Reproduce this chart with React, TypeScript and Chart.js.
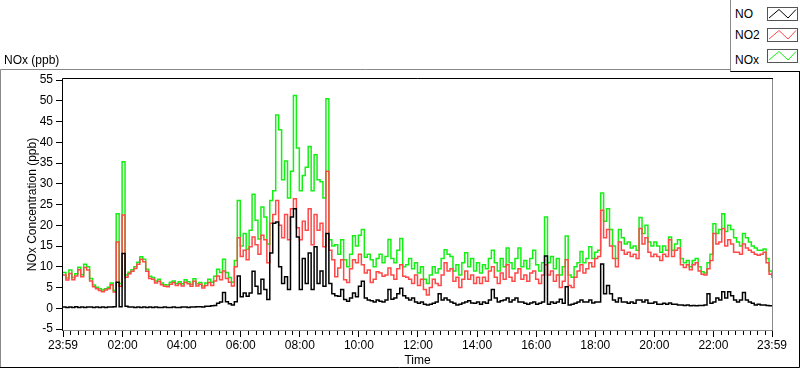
import React, { useEffect, useRef } from "react";
import { Chart, registerables } from "chart.js";

Chart.register(...registerables);

// ---- data (6-minute samples starting at 23:59) ----
const STEP_MINUTES = 6;

const noValues = [
  0.3, 0.2, 0.3, 0.2, 0.4, 0.2, 0.3, 0.2, 0.3, 0.3,
  0.2, 0.3, 0.2, 0.3, 0.2, 0.3, 0.3, 0.4, 6.3, 0.4,
  13.2, 0.5, 0.3, 0.3, 0.2, 0.3, 0.2, 0.3, 0.2, 0.3,
  0.2, 0.3, 0.2, 0.2, 0.3, 0.2, 0.2, 0.3, 0.2, 0.2,
  0.3, 0.3, 0.2, 0.3, 0.3, 0.4, 0.4, 0.3, 0.5, 0.5,
  0.6, 0.7, 1.2, 1.5, 3.8, 1.6, 1.1, 0.8, 1.6, 7.8,
  2.8, 3.7, 2.9, 3.7, 8.9, 5.3, 3.5, 7.0, 4.5, 2.1,
  13.3, 20.5, 20.8, 10.0, 6.0, 7.6, 4.5, 22.0, 24.0, 17.2,
  4.5, 12.0, 6.0, 13.3, 4.5, 14.8, 6.0, 9.0, 5.3, 18.0,
  6.0, 3.5, 3.0, 2.9, 4.5, 2.1, 1.7, 2.5, 3.7, 2.8,
  5.3, 6.5, 2.5, 2.0, 1.8, 1.5, 2.0, 1.7, 1.5, 2.0,
  4.5, 2.2, 2.5, 3.5, 4.8, 3.0, 2.5, 2.0, 2.5, 1.5,
  1.2, 1.5, 1.0, 0.8, 1.0, 1.2, 1.5, 3.5, 2.0, 2.5,
  2.0, 1.5, 1.2, 0.8, 1.0, 1.3, 1.5, 1.8, 1.3, 1.2,
  1.5, 1.0, 1.5, 1.2, 2.0, 4.5, 2.5, 1.5, 1.8, 2.0,
  2.5, 1.5, 2.0, 2.5, 1.5, 1.5, 1.2, 1.0, 1.3, 1.5,
  1.0, 1.2, 1.5, 12.6, 1.0, 1.5, 1.2, 1.5, 2.2, 1.2,
  5.2, 0.8, 1.0, 1.2, 1.5, 2.0, 1.5, 1.5, 2.0, 1.3,
  1.5, 1.5, 10.7, 3.5, 5.5, 3.5, 2.0, 1.5, 2.5, 1.5,
  1.5, 1.2, 1.5, 1.2, 2.0, 2.0, 1.5, 2.0, 1.2, 1.2,
  1.5, 1.0, 1.0, 1.2, 1.0, 1.3, 1.0, 1.0, 0.8, 0.8,
  0.7, 0.8, 0.6, 0.7, 0.6, 0.7, 0.7, 0.8, 3.5, 1.2,
  1.5, 2.5, 2.0, 4.0, 2.5, 4.0, 3.0, 2.0, 1.5, 2.0,
  3.8, 2.0, 1.5, 1.2, 0.8, 1.0, 0.8, 0.8, 0.7, 0.6, 0.5,
];

const no2Values = [
  8.0, 6.8, 8.4, 6.9, 7.8, 9.3, 7.6, 9.8, 9.2, 6.6,
  5.2, 4.7, 4.3, 4.0, 4.4, 4.7, 5.7, 3.9, 16.0, 5.3,
  22.5, 7.5, 8.3, 8.9, 9.6, 10.6, 11.8, 11.2, 8.9, 7.2,
  7.0, 6.1, 6.5, 5.7, 5.3, 5.2, 5.8, 6.2, 5.5, 5.9,
  5.4, 6.3, 5.9, 5.3, 6.5, 5.4, 5.8, 4.9, 5.5, 6.2,
  5.5, 6.6, 7.8, 6.9, 9.0, 7.2, 6.3, 5.4, 10.0, 17.0,
  12.5, 14.0, 11.7, 14.8, 17.2, 15.3, 13.0, 17.6, 16.5, 11.0,
  20.5, 22.6, 26.0, 20.0, 17.0, 22.6, 16.5, 24.0, 26.4, 19.4,
  16.5, 21.0, 18.8, 24.0, 15.3, 22.6, 18.8, 20.5, 14.8, 33.0,
  14.0, 11.7, 7.6, 9.7, 11.7, 6.9, 6.2, 9.5, 11.7, 11.0,
  13.0, 10.5, 8.5, 9.2, 6.2, 7.0, 8.8, 8.5, 7.7, 8.0,
  9.7, 8.0, 7.0, 9.5, 10.5, 7.7, 7.5, 7.0, 6.0, 8.0,
  5.5, 7.0, 4.5, 3.2, 5.0, 7.0, 6.0, 5.5, 8.0, 11.0,
  9.0, 9.5, 6.5, 7.5, 5.0, 7.0, 9.0, 7.0, 8.0, 6.0,
  7.5, 6.0, 7.5, 6.5, 9.0, 10.0, 7.5, 6.0, 8.5, 7.0,
  10.5, 7.5, 6.5, 8.5, 9.5, 7.0, 8.0, 6.5, 8.5, 9.0,
  7.0, 6.0, 8.0, 10.5, 8.0, 9.0, 6.5, 8.0, 5.0, 6.5,
  11.7, 5.5, 5.0, 7.5, 9.0, 10.5, 8.5, 9.5, 11.0, 10.0,
  12.0, 12.5, 23.6, 17.0, 19.0, 15.0, 12.0, 10.0, 16.0, 14.0,
  13.0, 13.5, 12.5, 13.0, 12.0, 19.2, 15.5, 17.0, 13.5, 12.5,
  13.0, 12.5, 11.5, 13.0, 12.5, 16.5, 12.5, 14.0, 14.5, 10.5,
  9.8, 10.5, 9.3, 10.5, 11.0, 9.0, 8.2, 8.0, 9.5, 11.5,
  18.0, 15.5, 16.0, 19.2, 15.0, 16.5, 15.5, 13.5, 13.5, 13.0,
  15.5, 14.5, 14.0, 13.5, 13.0, 12.8, 13.0, 13.5, 11.0, 8.2, 7.3,
];

const noxValues = [
  8.6, 7.3, 9.2, 7.4, 8.3, 9.9, 8.1, 10.6, 10.0, 7.2,
  5.6, 5.1, 4.7, 4.4, 4.7, 5.1, 6.1, 4.3, 22.8, 6.0,
  35.3, 8.0, 8.7, 9.3, 10.0, 11.1, 12.4, 11.8, 9.4, 7.7,
  7.4, 6.6, 7.0, 6.1, 5.7, 5.6, 6.3, 6.6, 6.0, 6.4,
  5.9, 6.9, 6.4, 5.8, 7.1, 5.9, 6.2, 5.4, 6.1, 7.0,
  6.3, 7.7, 9.4, 8.6, 11.8, 8.6, 7.4, 6.3, 11.5, 26.0,
  15.0, 18.0, 14.2, 18.8, 27.5, 21.2, 16.7, 24.4, 22.0, 15.5,
  26.0, 28.3, 46.6, 43.0, 31.0, 35.5, 26.6, 33.0, 51.3, 38.6,
  28.3, 32.0, 34.0, 39.0, 28.3, 37.0, 31.0, 30.5, 26.6, 50.5,
  16.5, 15.0, 15.3, 13.0, 16.5, 11.7, 10.0, 13.0, 17.5, 15.0,
  17.6, 19.0, 12.3, 13.0, 11.7, 10.0, 12.0, 13.0, 11.0, 12.5,
  16.6, 12.0, 11.0, 14.0, 16.8, 10.0, 10.5, 12.0, 9.5, 11.0,
  8.5, 10.0, 7.0, 6.0, 8.0, 10.0, 8.5, 9.5, 12.0, 14.1,
  13.0, 12.5, 9.0, 10.5, 8.0, 11.0, 13.4, 10.0, 12.0, 9.0,
  11.0, 8.5, 10.5, 9.5, 12.0, 14.0, 11.0, 9.0, 12.0, 10.0,
  14.5, 11.0, 9.5, 12.0, 14.5, 10.0, 11.5, 9.5, 12.0, 14.0,
  10.5, 9.0, 11.0, 22.0, 11.0, 12.5, 9.5, 12.0, 8.0, 10.0,
  17.4, 8.0, 7.5, 10.0, 11.0, 13.7, 11.0, 12.0, 14.8, 12.0,
  13.5, 14.0, 27.8, 21.0, 24.0, 19.0, 15.0, 12.0, 19.0, 17.0,
  15.5, 16.0, 14.5, 15.0, 14.0, 21.9, 18.0, 20.0, 16.0, 15.0,
  16.0, 15.0, 13.5, 15.0, 14.0, 17.2, 14.0, 15.5, 16.5, 12.0,
  11.0, 11.5, 10.0, 11.5, 12.0, 10.0, 8.8, 8.5, 11.0, 13.0,
  20.4, 18.0, 19.0, 22.8, 18.5, 20.0, 19.0, 17.0, 16.0, 15.0,
  18.0, 17.0, 16.0, 15.0, 14.5, 14.0, 14.0, 14.3, 12.0, 9.0, 7.8,
];

const yTickValues = [-5, 0, 5, 10, 15, 20, 25, 30, 35, 40, 45, 50, 55];
const xTickMinutes = [0, 121, 241, 361, 481, 601, 721, 841, 961, 1081, 1201, 1321, 1440];
const xTickLabels = [
  "23:59", "02:00", "04:00", "06:00", "08:00", "10:00", "12:00",
  "14:00", "16:00", "18:00", "20:00", "22:00", "23:59",
];

const seriesNames = ["NO", "NO2", "NOx"];
const seriesColors = ["#000000", "#ff4848", "#14f014"];

const FONT_FAMILY = '"Liberation Sans", Arial, sans-serif';

const toPoints = (values: number[]) =>
  values.map((v, i) => ({ x: i * STEP_MINUTES, y: v }));

const framePlugin = {
  id: "labviewFrame",
  beforeDraw(chart: any) {
    const ctx = chart.ctx;
    ctx.save();
    ctx.fillStyle = "#ffffff";
    ctx.fillRect(0, 0, chart.width, chart.height);
    ctx.lineWidth = 1;
    ctx.strokeStyle = "#8a8a8a";
    ctx.beginPath();
    ctx.moveTo(0.5, 368);
    ctx.lineTo(0.5, 69.5);
    ctx.lineTo(731, 69.5);
    ctx.stroke();
    ctx.strokeStyle = "#000000";
    ctx.beginPath();
    ctx.moveTo(0, 367.5);
    ctx.lineTo(799.5, 367.5);
    ctx.lineTo(799.5, 71);
    ctx.stroke();
    ctx.restore();
  },
  afterDatasetsDraw(chart: any) {
    const ctx = chart.ctx;
    const { left, right, top, bottom } = chart.chartArea;
    ctx.save();
    ctx.lineWidth = 1;
    ctx.strokeStyle = "#000000";
    ctx.beginPath();
    ctx.moveTo(left - 0.5, bottom + 1);
    ctx.lineTo(left - 0.5, top - 0.5);
    ctx.lineTo(right + 1, top - 0.5);
    ctx.stroke();
    ctx.strokeStyle = "#8a8a8a";
    ctx.beginPath();
    ctx.moveTo(left, bottom + 0.5);
    ctx.lineTo(right + 0.5, bottom + 0.5);
    ctx.lineTo(right + 0.5, top);
    ctx.stroke();
    // minor ticks on the time axis
    const xs = chart.scales.x;
    ctx.strokeStyle = "#000000";
    ctx.beginPath();
    for (let k = 0; k < xTickMinutes.length - 1; k++) {
      const a = xTickMinutes[k];
      const b = xTickMinutes[k + 1];
      for (let j = 1; j < 8; j++) {
        const px = Math.round(xs.getPixelForValue(a + ((b - a) * j) / 8)) + 0.5;
        ctx.moveTo(px, bottom + 1);
        ctx.lineTo(px, bottom + 5);
      }
    }
    ctx.stroke();
    ctx.restore();
  },
};

export default function App() {
  const canvasRef = useRef<HTMLCanvasElement | null>(null);

  useEffect(() => {
    const canvas = canvasRef.current;
    if (!canvas) return;
    const font = { family: FONT_FAMILY, size: 12 };
    const valuesBySeries = [noValues, no2Values, noxValues];
    const chart = new Chart(canvas, {
      type: "line",
      data: {
        datasets: valuesBySeries.map((vals, i) => ({
          label: seriesNames[i],
          data: toPoints(vals),
          borderColor: seriesColors[i],
          backgroundColor: seriesColors[i],
          borderWidth: 1.5,
          pointRadius: 0,
          stepped: true,
          fill: false,
        })),
      },
      options: {
        animation: false,
        responsive: false,
        devicePixelRatio: 1,
        events: [],
        layout: { padding: { left: 0, top: 79, right: 28, bottom: 0 } },
        plugins: {
          legend: { display: false },
          tooltip: { enabled: false },
        },
        scales: {
          x: {
            type: "linear",
            min: 0,
            max: 1440,
            afterBuildTicks: (s: any) => {
              s.ticks = xTickMinutes.map((v) => ({ value: v }));
            },
            afterFit: (s: any) => {
              s.height = 39;
            },
            ticks: {
              autoSkip: false,
              maxRotation: 0,
              padding: 1,
              color: "#000",
              font,
              callback: (v: any) => xTickLabels[xTickMinutes.indexOf(Number(v))] ?? "",
            },
            grid: { drawOnChartArea: false, tickLength: 7, color: "#000", tickColor: "#000" },
            border: { display: false },
            title: {
              display: true,
              text: "Time",
              color: "#000",
              font,
              padding: { top: 0, bottom: 1 },
            },
          },
          y: {
            type: "linear",
            min: -5.23,
            max: 55.25,
            afterBuildTicks: (s: any) => {
              s.ticks = yTickValues.map((v) => ({ value: v }));
            },
            afterFit: (s: any) => {
              s.width = 63;
            },
            ticks: {
              padding: 3,
              color: "#000",
              font,
              callback: (v: any) => String(v),
            },
            grid: { drawOnChartArea: false, tickLength: 7, color: "#000", tickColor: "#000" },
            border: { display: false },
            title: {
              display: true,
              text: "NOx Concentration (ppb)",
              color: "#000",
              font,
              padding: { top: 25, bottom: 0 },
            },
          },
        },
      },
      plugins: [framePlugin],
    } as any);
    return () => chart.destroy();
  }, []);

  const textStyle: React.CSSProperties = {
    position: "absolute",
    fontFamily: FONT_FAMILY,
    fontSize: 12,
    lineHeight: "14px",
    color: "#000",
    whiteSpace: "nowrap",
  };
  const legendTextTops = [7, 28, 53];
  const legendIconTops = [7, 28, 49];

  return (
    <div style={{ position: "absolute", left: 0, top: 0, width: 800, height: 369, background: "#fff", overflow: "hidden" }}>
      <canvas
        ref={canvasRef}
        width={800}
        height={369}
        style={{ position: "absolute", left: 0, top: 0, width: 800, height: 369 }}
      />
      <div style={{ ...textStyle, left: 4, top: 53 }}>NOx (ppb)</div>
      <div
        style={{
          position: "absolute",
          left: 730,
          top: 0,
          width: 70,
          height: 72,
          boxSizing: "border-box",
          borderLeft: "1px solid #8a8a8a",
          borderBottom: "1px solid #000",
          background: "#fff",
        }}
      >
        {seriesNames.map((name, i) => (
          <React.Fragment key={name}>
            <div style={{ ...textStyle, left: 4, top: legendTextTops[i] }}>{name}</div>
            <svg
              width={31}
              height={14}
              style={{ position: "absolute", left: 36, top: legendIconTops[i] }}
            >
              <rect x={0.5} y={0.5} width={30} height={13} fill="#fff" stroke="#555" strokeWidth={1} />
              <polyline
                points="2,11 12,2.5 21,11 29,2.5"
                fill="none"
                stroke={seriesColors[i]}
                strokeWidth={1}
              />
            </svg>
          </React.Fragment>
        ))}
      </div>
    </div>
  );
}
